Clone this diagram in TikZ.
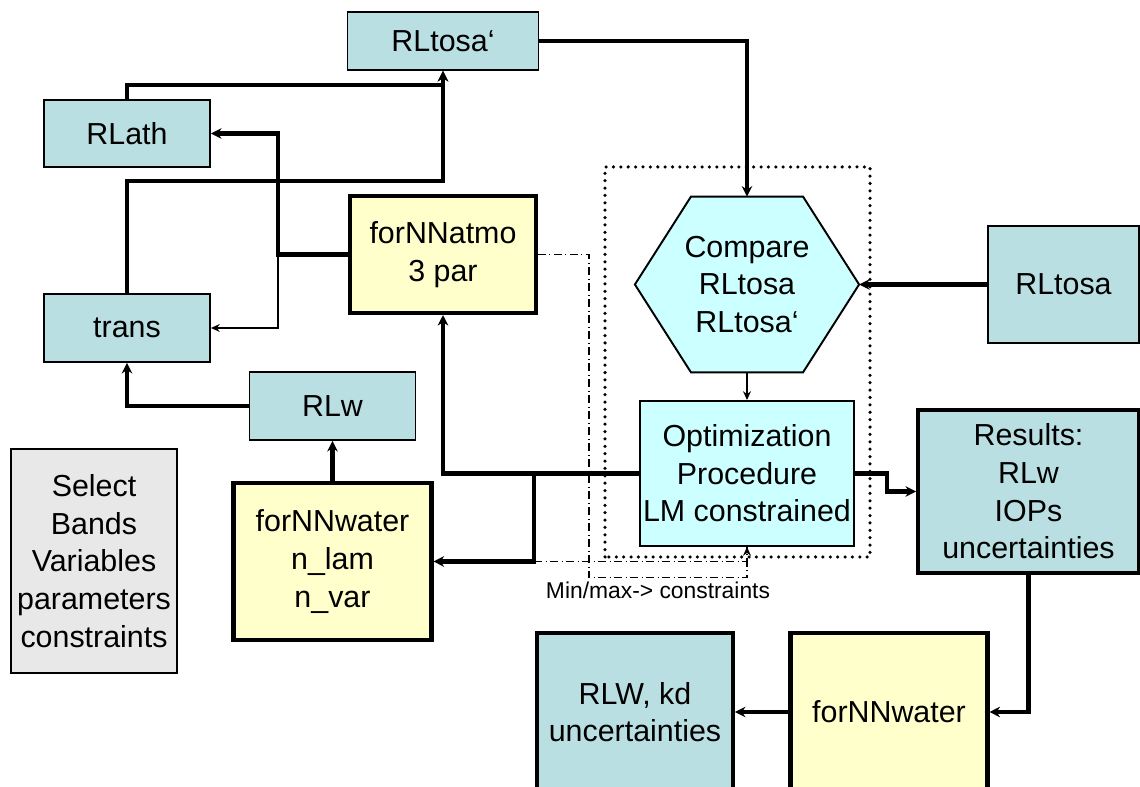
\documentclass[tikz,border=0pt]{standalone}
\usepackage{fontspec}
\setmainfont{Liberation Sans}
\usetikzlibrary{arrows.meta,calc,backgrounds}

\definecolor{dataclr}{RGB}{185,223,227}
\definecolor{netclr}{RGB}{255,255,204}
\definecolor{procclr}{RGB}{204,255,255}
\definecolor{selclr}{RGB}{232,232,232}

\begin{document}
\begin{tikzpicture}[x=0.02cm, y=0.02cm, >={Stealth[length=6pt,width=6pt]},
    every node/.style={align=center, inner sep=1pt, font=\fontsize{17.3}{21.4}\selectfont},
    sz/.style 2 args={minimum width=#1*\px, minimum height=#2*\px},
    databox/.style={draw, line width=1.1pt, fill=dataclr},
    resbox/.style={draw, line width=2.2pt, fill=dataclr},
    netbox/.style={draw, line width=2.3pt, fill=netclr},
    procbox/.style={draw, line width=1.1pt, fill=procclr},
    selbox/.style={draw, line width=1.1pt, fill=selclr},
    flow/.style={line width=2.3pt, ->},
    thinflow/.style={line width=0.6pt, -{Stealth[length=5pt,width=4.5pt]}},
    limit/.style={line width=0.6pt, dash pattern=on 4.5pt off 2pt on 0.6pt off 2pt}]
    % Define size of one pixel of the sketch
    \def\px{0.02cm}

    % Fix the frame
    \clip (0,0) rectangle (1140,787);

    % Draw the optimization loop frame
    \draw[line width=2pt, line cap=round, dash pattern=on 0pt off 4.2pt] (605,230) rectangle (870,620);

    % Draw forward model boxes
    \node[databox, sz={191}{58}] (rltosap) at (443,746) {RLtosa‘};
    \node[databox, sz={166}{67}] (rlath) at (127,653.5) {RLath};
    \node[databox, sz={166}{68}] (trans) at (127,459) {trans};
    \node[netbox, sz={186}{117}] (atmo) at (443,532.5) {forNNatmo\\3 par};
    \node[databox, sz={166}{68}] (rlw) at (332.5,381) {RLw};
    \node[netbox, sz={198}{157}] (water) at (332.5,225.5) {forNNwater\\n\_lam\\n\_var};
    \node[selbox, sz={166}{224}] (sel) at (94,226) {Select\\Bands\\Variables\\parameters\\constraints};

    % Draw compare and optimization
    \node[sz={223.5}{175}] (cmp) at (747,502.5) {Compare\\RLtosa\\RLtosa‘};
    \begin{scope}[on background layer]
        \draw[procbox] (cmp.west) -- ($(cmp.north west)!0.25!(cmp.north east)$)
            -- ($(cmp.north west)!0.75!(cmp.north east)$) -- (cmp.east)
            -- ($(cmp.south west)!0.75!(cmp.south east)$)
            -- ($(cmp.south west)!0.25!(cmp.south east)$) -- cycle;
    \end{scope}
    \node[procbox, sz={214.5}{145}] (opt) at (747,313.5) {Optimization\\Procedure\\LM constrained};

    % Draw measurement and results
    \node[databox, sz={151}{117}] (rltosa) at (1063.5,502.5) {RLtosa};
    \node[resbox, sz={221}{163}] (res) at (1028.5,295.5) {Results:\\RLw\\IOPs\\uncertainties};
    \node[netbox, sz={197}{158}] (water2) at (889,75) {forNNwater};
    \node[resbox, sz={196}{158}] (rlwkd) at (635,75) {RLW, kd\\uncertainties};

    % Draw paths to RLtosa'
    \draw[flow] (rlath.north) -- ++(0,14) -| (rltosap.south);
    \draw[flow] (trans.north) -- ++(0,112) -| (rltosap.south);

    % Draw outputs of forNNatmo
    \coordinate (atmosplit) at ($(atmo.west)+(-70,0)$);
    \draw[flow] (atmo.west) -- (atmosplit) |- (rlath.east);
    \draw[thinflow] (atmosplit) |- (trans.east);

    % Draw water branch
    \draw[flow] (rlw.west) -| (trans.south);
    \draw[flow] (water.north) -- (rlw.south);

    % Draw outputs of the optimization
    \draw[flow] (opt.west) -| (atmo.south);
    \coordinate (optsplit) at ($(opt.west)+(-104.5,0)$);
    \draw[flow] (optsplit) |- (water.east);

    % Draw the loop
    \draw[flow] (rltosap.east) -| (cmp.north);
    \draw[thinflow] (cmp.south) -- (opt.north);
    \draw[flow] (rltosa.west) -- (cmp.east);

    % Draw results chain
    \draw[flow] (opt.east) -- ++(32,0) |- (res.west);
    \draw[flow] (res.south) |- (water2.east);
    \draw[flow] (water2.west) -- (rlwkd.east);

    % Draw constraints
    \draw[limit, -{Stealth[length=5pt,width=4.5pt]}] (atmo.east) -- ++(51,0)
        |- ($(opt.south)+(0,-31)$) -- (opt.south);
    \draw[limit] (optsplit |- water.east) -| (opt.south);
    \node[font=\fontsize{13}{15}\selectfont] (mmlabel) at (658,197) {Min/max-> constraints};

\end{tikzpicture}
\end{document}
